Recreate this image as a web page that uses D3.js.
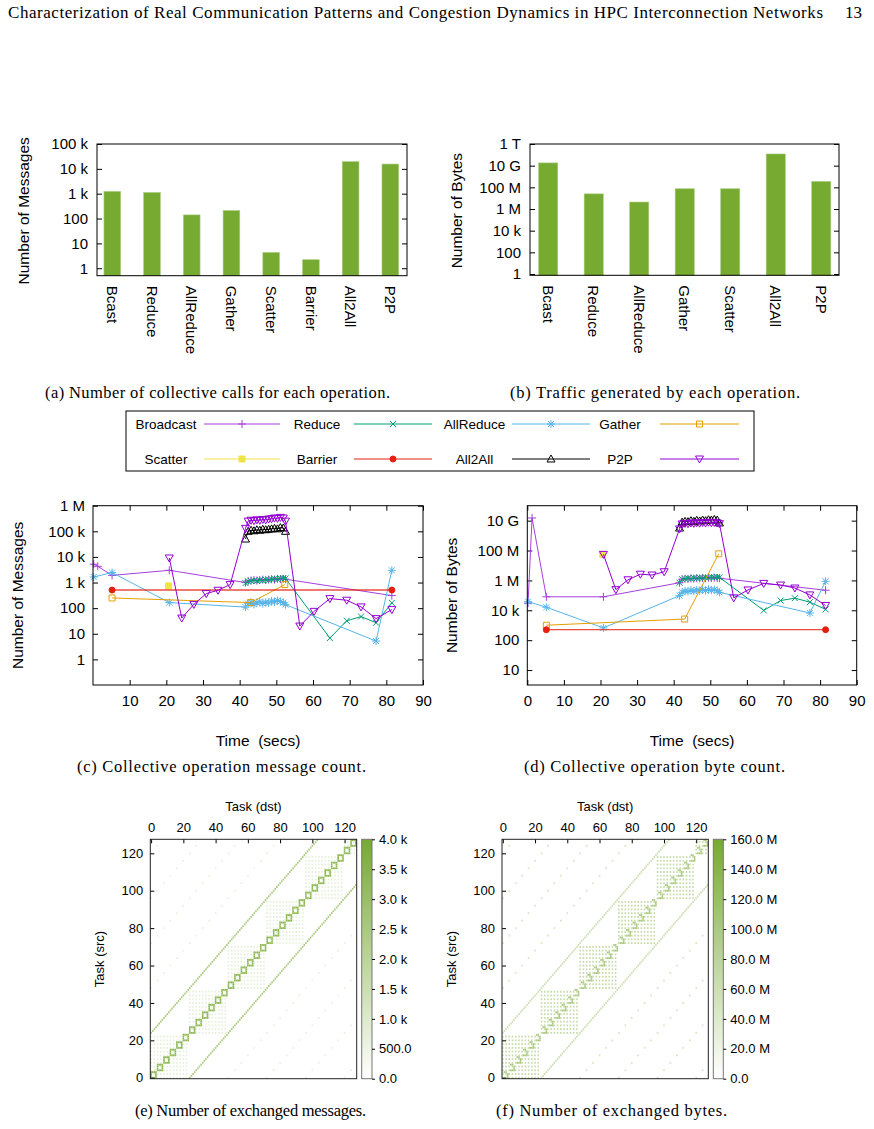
<!DOCTYPE html>
<html lang="en">
<head>
<meta charset="UTF-8">
<title>Collective operations and communication matrices</title>
<script src="https://d3js.org/d3.v7.min.js"></script>
<style>
  body { margin: 0; background: #fff; }
  svg text { font-family: "Liberation Sans", Arial, Helvetica, sans-serif; fill: #000; }
  svg text.serif { font-family: "Liberation Serif", "Times New Roman", serif; }
</style>
</head>
<body>
<svg width="874" height="1129"></svg>
<script>
// ---------- data ----------
const pageTitle = "Characterization of Real Communication Patterns and Congestion Dynamics in HPC Interconnection Networks";
const pageNumber = "13";

// (a) number of calls per operation
const callOps = ["Bcast", "Reduce", "AllReduce", "Gather", "Scatter", "Barrier", "All2All", "P2P"];
const callCounts = [1230, 1120, 140, 209, 4.3, 2.2, 19500, 15600];
const callTicks = [1, 10, 100, 1e3, 1e4, 1e5];
const callTickLabels = ["1", "10", "100", "1 k", "10 k", "100 k"];

// (b) bytes per operation
const byteOps = ["Bcast", "Reduce", "AllReduce", "Gather", "Scatter", "All2All", "P2P"];
const byteTotals = [1.8e10, 2.5e7, 4.4e6, 7.4e7, 7.4e7, 1.2e11, 3.5e8];
const byteTicks = [1, 1e2, 1e4, 1e6, 1e8, 1e10, 1e12];
const byteTickLabels = ["1", "100", "10 k", "1 M", "100 M", "10 G", "1 T"];

// (c)/(d) time series
const timeTicks = [0, 10, 20, 30, 40, 50, 60, 70, 80, 90];
const msgSeriesTicks = [1, 10, 100, 1e3, 1e4, 1e5, 1e6];
const msgSeriesLabels = ["1", "10", "100", "1 k", "10 k", "100 k", "1 M"];
const byteSeriesTicks = [1, 1e2, 1e4, 1e6, 1e8, 1e10];
const byteSeriesLabels = ["10", "100", "10 k", "1 M", "100 M", "10 G"];

const burstTime = [42.3, 43.1, 43.9, 44.7, 45.5, 46.3, 47.1, 47.9, 48.7, 49.5, 50.3, 51.1, 51.9];

const bcastTime = [0.2, 1.3, 5.2, 20.8, 41.6, ...burstTime, 52.5, 81.5];
const bcastMsgs = [5200, 4300, 1900, 3000, 1000, 1150, 1200, 1250, 1200, 1250, 1300, 1250, 1300, 1350, 1300, 1400, 1350, 1400, 1350, 310];
const bcastBytes = [30000, 1.5e10, 80000, 80000, 7e5, 1.2e6, 1.3e6, 1.25e6, 1.35e6, 1.3e6, 1.4e6, 1.35e6, 1.45e6, 1.4e6, 1.5e6, 1.45e6, 1.5e6, 1.45e6, 1.4e6, 2.2e5];

const reduceTime = [41.6, ...burstTime, 52.5, 64.6, 69.2, 73.1, 77.2, 81.5];
const reduceMsgs = [950, 1100, 1150, 1200, 1150, 1250, 1200, 1300, 1250, 1350, 1400, 1350, 1450, 1500, 1450, 6.8, 32, 47, 27, 160];
const reduceBytes = [7e5, 1.2e6, 1.3e6, 1.4e6, 1.3e6, 1.5e6, 1.4e6, 1.5e6, 1.45e6, 1.6e6, 1.5e6, 1.7e6, 1.6e6, 1.7e6, 1.6e6, 9800, 45000, 65000, 35000, 11500];

const allredTime = [0.2, 5.2, 20.8, 41.6, ...burstTime, 52.5, 77.2, 81.5];
const allredMsgs = [1650, 2450, 165, 110, 150, 170, 140, 160, 180, 150, 170, 160, 190, 175, 200, 180, 165, 137, 5.2, 3000];
const allredBytes = [38000, 16000, 660, 96000, 1.6e5, 2.0e5, 1.8e5, 2.2e5, 1.9e5, 2.3e5, 2.0e5, 2.4e5, 2.1e5, 2.5e5, 2.2e5, 2.4e5, 2.1e5, 1.6e5, 6600, 8.7e5];

const gatherTime = [5.2, 43.0, 52.3];
const gatherMsgs = [250, 165, 830];
const gatherBytes = [1000, 2600, 6e7];

const scatterTime = [20.6];
const scatterMsgs = [740];
const scatterBytes = [5.5e7];

const barrierTime = [5.2, 81.5];
const barrierMsgs = [510, 510];
const barrierBytes = [500, 500];

const a2aTime = [41.6, ...burstTime, 52.5];
const a2aMsgs = [50000, 1.0e5, 1.1e5, 1.05e5, 1.15e5, 1.1e5, 1.2e5, 1.15e5, 1.2e5, 1.25e5, 1.3e5, 1.25e5, 1.4e5, 1.35e5, 1.0e5];
const a2aBytes = [3.2e9, 8e9, 9e9, 8.5e9, 1.0e10, 9e9, 1.05e10, 9.5e9, 1.1e10, 1.0e10, 1.15e10, 1.1e10, 1.2e10, 1.1e10, 7e9];

const p2pTime = [20.8, 24.2, 27.5, 30.9, 34.1, 37.4, 41.6, ...burstTime, 52.5, 56.4, 60.3, 64.6, 69.2, 73.1, 77.2, 81.5];
const p2pMsgs = [9100, 41, 140, 370, 500, 830, 1.3e5, 2.5e5, 2.7e5, 2.6e5, 2.8e5, 2.7e5, 2.9e5, 2.8e5, 3.0e5, 3.1e5, 3.3e5, 3.2e5, 3.5e5, 3.3e5, 2.5e5, 20, 75, 236, 204, 112, 39, 88];
const p2pBytes = [5.5e7, 2.4e5, 1.1e6, 2.6e6, 2.3e6, 3.8e6, 2.8e9, 6e9, 6.5e9, 6.2e9, 7e9, 6.6e9, 7.2e9, 6.8e9, 7.5e9, 7e9, 7.8e9, 7.2e9, 7.6e9, 7.0e9, 6.3e9, 68000, 2.3e5, 6.3e5, 4.9e5, 3.1e5, 1.07e5, 21000];

// (e)/(f) task-to-task matrices, described by the structure seen in the picture
const taskCount = 128;
const blockStarts = [0, 24, 48, 72, 96, 120];
const blockSize = 24;
const ringSize = 4;
const bandOffsets = [24, -24];
const dottedOffsets = [48, 72, 96, 120, -48, -72, -96, -120];
const msgRingCells = [[0, 0], [0, 1], [0, 2], [0, 3], [1, 0], [1, 3], [2, 0], [2, 3], [3, 0], [3, 1], [3, 2], [3, 3]];
const byteRingCells = [[0, 1], [0, 2], [1, 3], [2, 3], [3, 1], [3, 2], [0, 3]];
const msgLevels = {ring: 3300, band: 2500, block: 700, diag: 650};
const byteLevels = {ring: 100e6, band: 60e6, block: 65e6, diag: 48e6};
const taskTicks = [0, 20, 40, 60, 80, 100, 120];
const msgCbTicks = [0, 500, 1000, 1500, 2000, 2500, 3000, 3500, 4000];
const msgCbLabels = ["0.0", "500.0", "1.0 k", "1.5 k", "2.0 k", "2.5 k", "3.0 k", "3.5 k", "4.0 k"];
const byteCbTicks = [0, 20e6, 40e6, 60e6, 80e6, 100e6, 120e6, 140e6, 160e6];
const byteCbLabels = ["0.0", "20.0 M", "40.0 M", "60.0 M", "80.0 M", "100.0 M", "120.0 M", "140.0 M", "160.0 M"];

const barGreen = "#77aa31";

const series = [
  {name: "Broadcast", color: "#a640dc", marker: "plus", t: bcastTime, msgs: bcastMsgs, bytes: bcastBytes},
  {name: "Reduce", color: "#009e73", marker: "times", t: reduceTime, msgs: reduceMsgs, bytes: reduceBytes},
  {name: "AllReduce", color: "#56b4e9", marker: "star", t: allredTime, msgs: allredMsgs, bytes: allredBytes},
  {name: "Gather", color: "#e69f00", marker: "square", t: gatherTime, msgs: gatherMsgs, bytes: gatherBytes},
  {name: "Scatter", color: "#f0e442", marker: "fsquare", t: scatterTime, msgs: scatterMsgs, bytes: scatterBytes},
  {name: "Barrier", color: "#e51e10", marker: "fcircle", t: barrierTime, msgs: barrierMsgs, bytes: barrierBytes},
  {name: "All2All", color: "#000000", marker: "tri", t: a2aTime, msgs: a2aMsgs, bytes: a2aBytes},
  {name: "P2P", color: "#9400d3", marker: "itri", t: p2pTime, msgs: p2pMsgs, bytes: p2pBytes}
];

// ---------- drawing ----------
const svg = d3.select("svg");
const FONT = 15;

function frame(x0, y0, x1, y1, stroke) {
  svg.append("rect").attr("x", x0).attr("y", y0)
    .attr("width", x1 - x0).attr("height", y1 - y0)
    .attr("fill", "none").attr("stroke", stroke || "#000").attr("stroke-width", 1);
}

function styleAxis(g, size) {
  g.attr("font-size", size).attr("font-family", null);
  g.select(".domain").remove();
  g.selectAll("line").attr("stroke", "#000");
}

function yTitle(text, x, y) {
  svg.append("text").attr("transform", `translate(${x},${y}) rotate(-90)`)
    .attr("text-anchor", "middle").attr("font-size", 15.5).text(text);
}

function caption(text, x, y, w) {
  svg.append("text").attr("class", "serif").attr("x", x).attr("y", y)
    .attr("font-size", 16.5).attr("textLength", w).attr("lengthAdjust", "spacing").text(text);
}

// header
svg.append("text").attr("class", "serif").attr("x", 8).attr("y", 18)
  .attr("font-size", 17).attr("textLength", 815).attr("lengthAdjust", "spacing").text(pageTitle);
svg.append("text").attr("class", "serif").attr("x", 845).attr("y", 18)
  .attr("font-size", 17).text(pageNumber);

// bar charts
function barChart(c) {
  const x = d3.scaleLinear().domain(c.xDomain).range([c.left, c.right]);
  const y = d3.scaleLog().domain(c.yDomain).range([c.bottom, c.top]);
  const bw = x(0.42) - x(0);
  svg.append("g").selectAll("rect").data(c.values).join("rect")
    .attr("x", (d, i) => x(i) - bw / 2)
    .attr("y", d => y(d))
    .attr("width", bw)
    .attr("height", d => c.bottom - y(d))
    .attr("fill", barGreen)
    .attr("stroke", "#a9cd80").attr("stroke-width", 0.6);

  const ax = svg.append("g").attr("transform", `translate(${c.left},0)`)
    .call(d3.axisLeft(y).tickValues(c.ticks).tickFormat((d, i) => c.labels[i])
      .tickSizeInner(-5).tickSizeOuter(0).tickPadding(9));
  styleAxis(ax, FONT);
  const axr = svg.append("g").attr("transform", `translate(${c.right},0)`)
    .call(d3.axisRight(y).tickValues(c.ticks).tickFormat("").tickSizeInner(-5).tickSizeOuter(0));
  styleAxis(axr, FONT);

  svg.append("g").selectAll("text").data(c.cats).join("text")
    .attr("transform", (d, i) => `translate(${x(i)},${c.bottom + 10}) rotate(90)`)
    .attr("dy", "0.35em").attr("font-size", FONT).text(d => d);

  frame(c.left, c.top, c.right, c.bottom);
  yTitle(c.title, c.titleX, (c.top + c.bottom) / 2 + 1);
}

barChart({cats: callOps, values: callCounts, xDomain: [-0.385, 7.42], yDomain: [0.5, 1e5],
  left: 97, right: 407, top: 144, bottom: 275.7, ticks: callTicks, labels: callTickLabels,
  title: "Number of Messages", titleX: 29});
barChart({cats: byteOps, values: byteTotals, xDomain: [-0.4, 6.39], yDomain: [0.76, 1e12],
  left: 530, right: 839, top: 144, bottom: 275.3, ticks: byteTicks, labels: byteTickLabels,
  title: "Number of Bytes", titleX: 462});

caption("(a) Number of collective calls for each operation.", 45, 398, 345);
caption("(b) Traffic generated by each operation.", 510, 398, 290);

// markers
function markerPath(type, s) {
  const t = s * 0.75;
  switch (type) {
    case "plus": return `M${-s},0H${s}M0,${-s}V${s}`;
    case "times": return `M${-t},${-t}L${t},${t}M${-t},${t}L${t},${-t}`;
    case "star": return `M${-s},0H${s}M0,${-s}V${s}M${-t},${-t}L${t},${t}M${-t},${t}L${t},${-t}`;
    case "square":
    case "fsquare": return `M${-t},${-t}H${t}V${t}H${-t}Z`;
    case "fcircle": return `M${t},0A${t},${t} 0 1,1 ${-t},0A${t},${t} 0 1,1 ${t},0Z`;
    case "tri": return `M0,${-s}L${s},${t}L${-s},${t}Z`;
    case "itri": return `M0,${s}L${s},${-t}L${-s},${-t}Z`;
  }
}
function drawMarker(g, type, color, x, y) {
  const filled = type === "fsquare" || type === "fcircle";
  g.append("path").attr("transform", `translate(${x},${y})`)
    .attr("d", markerPath(type, 4))
    .attr("fill", filled ? color : "none")
    .attr("stroke", color).attr("stroke-width", 1);
}

// legend
const legCols = [{c: 166, x1: 204, x2: 280}, {c: 317, x1: 354, x2: 432},
                 {c: 474.5, x1: 512, x2: 590}, {c: 620, x1: 660, x2: 739}];
const legRows = [424, 459];
frame(126, 411, 754, 471);
series.forEach((s, i) => {
  const col = legCols[i % 4], yy = legRows[Math.floor(i / 4)];
  const g = svg.append("g");
  g.append("text").attr("x", col.c).attr("y", yy).attr("dy", "0.35em")
    .attr("text-anchor", "middle").attr("font-size", 13.5).text(s.name);
  g.append("line").attr("x1", col.x1).attr("x2", col.x2).attr("y1", yy).attr("y2", yy)
    .attr("stroke", s.color).attr("stroke-width", 1);
  drawMarker(g, s.marker, s.color, (col.x1 + col.x2) / 2, yy);
});

// time series
function lineChart(c) {
  const x = d3.scaleLinear().domain([0, 90]).range([c.left, c.right]);
  const y = d3.scaleLog().domain(c.yDomain).range([c.bottom, c.top]);

  const ay = svg.append("g").attr("transform", `translate(${c.left},0)`)
    .call(d3.axisLeft(y).tickValues(c.ticks).tickFormat((d, i) => c.labels[i])
      .tickSizeInner(-5).tickSizeOuter(0).tickPadding(8));
  styleAxis(ay, FONT);
  const ayr = svg.append("g").attr("transform", `translate(${c.right},0)`)
    .call(d3.axisRight(y).tickValues(c.ticks).tickFormat("").tickSizeInner(-5).tickSizeOuter(0));
  styleAxis(ayr, FONT);
  const ax = svg.append("g").attr("transform", `translate(0,${c.bottom})`)
    .call(d3.axisBottom(x).tickValues(c.xTicks).tickFormat(d => d)
      .tickSizeInner(-5).tickSizeOuter(0).tickPadding(10));
  styleAxis(ax, FONT);
  const axt = svg.append("g").attr("transform", `translate(0,${c.top})`)
    .call(d3.axisTop(x).tickValues(c.xTicks).tickFormat("").tickSizeInner(-5).tickSizeOuter(0));
  styleAxis(axt, FONT);

  const line = d3.line().x(d => x(d[0])).y(d => y(d[1]));
  series.forEach(s => {
    const pts = s.t.map((t, i) => [t, s[c.key][i]]);
    const g = svg.append("g");
    const wide = s.name === "Barrier" && c.key === "msgs";
    if (pts.length > 1) {
      g.append("path").datum(pts).attr("d", line).attr("fill", "none")
        .attr("stroke", s.color).attr("stroke-width", wide ? 2 : 1)
        .attr("stroke-opacity", wide ? 0.6 : 1);
    }
    pts.forEach(p => drawMarker(g, s.marker, s.color, x(p[0]), y(p[1])));
  });

  frame(c.left, c.top, c.right, c.bottom);
  yTitle(c.title, c.titleX, (c.top + c.bottom) / 2);
  svg.append("text").attr("x", c.timeX).attr("y", 746).attr("text-anchor", "middle")
    .attr("font-size", 15.5).style("white-space", "pre").text("Time  (secs)");
}

lineChart({key: "msgs", left: 93, right: 423, top: 505.7, bottom: 685, yDomain: [0.1, 1e6],
  ticks: msgSeriesTicks, labels: msgSeriesLabels, xTicks: timeTicks.slice(1),
  title: "Number of Messages", titleX: 23, timeX: 258});
lineChart({key: "bytes", left: 527.3, right: 856.7, top: 505.7, bottom: 685, yDomain: [0.1, 1e11],
  ticks: byteSeriesTicks, labels: byteSeriesLabels, xTicks: timeTicks,
  title: "Number of Bytes", titleX: 457, timeX: 692});

caption("(c) Collective operation message count.", 77, 772, 289);
caption("(d) Collective operation byte count.", 524, 772, 261);

// matrices
function buildCells(levels, ringCells) {
  const cells = new Map();
  const put = (s, d, v) => {
    if (s < 0 || d < 0 || s >= taskCount || d >= taskCount) return;
    const k = s * taskCount + d;
    if (!cells.has(k) || cells.get(k).v < v) cells.set(k, {src: s, dst: d, v});
  };
  dottedOffsets.forEach(off => { for (let d = 0; d < taskCount; d += 4) put(d + off, d, levels.diag); });
  blockStarts.forEach(b => {
    for (let i = b; i < b + blockSize; i += 2)
      for (let j = b; j < b + blockSize; j += 2) put(i, j, levels.block);
  });
  bandOffsets.forEach(off => { for (let d = 0; d < taskCount; d++) put(d + off, d, levels.band); });
  for (let g = 0; g < taskCount; g += ringSize)
    ringCells.forEach(([a, b]) => put(g + a, g + b, levels.ring));
  return Array.from(cells.values());
}

function heatmap(c) {
  const x = d3.scaleLinear().domain([-0.5, 127.5]).range([c.left, c.right]);
  const y = d3.scaleLinear().domain([-0.5, 127.5]).range([c.bottom, c.top]);
  const color = d3.scaleLinear().domain([0, c.max]).range(["#ffffff", barGreen]);
  const cw = x(1) - x(0), ch = y(0) - y(1);

  svg.append("g").selectAll("rect").data(c.cells).join("rect")
    .attr("x", d => x(d.dst - 0.5)).attr("y", d => y(d.src + 0.5))
    .attr("width", cw).attr("height", ch).attr("fill", d => color(d.v));

  const ay = svg.append("g").attr("transform", `translate(${c.left},0)`)
    .call(d3.axisLeft(y).tickValues(taskTicks).tickSizeInner(-4).tickSizeOuter(0).tickPadding(7));
  styleAxis(ay, 13);
  const ax = svg.append("g").attr("transform", `translate(0,${c.top})`)
    .call(d3.axisTop(x).tickValues(taskTicks).tickSizeInner(-4).tickSizeOuter(0).tickPadding(7));
  styleAxis(ax, 13);
  frame(c.left, c.top, c.right, c.bottom, "#222");

  // colour box
  const gid = "grad" + c.key;
  const grad = svg.append("defs").append("linearGradient").attr("id", gid)
    .attr("x1", 0).attr("y1", 1).attr("x2", 0).attr("y2", 0);
  grad.append("stop").attr("offset", 0).attr("stop-color", "#ffffff");
  grad.append("stop").attr("offset", 1).attr("stop-color", barGreen);
  const cb = d3.scaleLinear().domain([0, c.max]).range([c.bottom, c.top]);
  svg.append("rect").attr("x", c.cbLeft).attr("y", c.top).attr("width", c.cbRight - c.cbLeft)
    .attr("height", c.bottom - c.top).attr("fill", `url(#${gid})`)
    .attr("stroke", "#777").attr("stroke-width", 1);
  const acb = svg.append("g").attr("transform", `translate(${c.cbRight},0)`)
    .call(d3.axisRight(cb).tickValues(c.cbTicks).tickFormat((d, i) => c.cbLabels[i])
      .tickSizeInner(3).tickSizeOuter(0).tickPadding(4));
  styleAxis(acb, 13);

  svg.append("text").attr("x", (c.left + c.right) / 2).attr("y", 811)
    .attr("text-anchor", "middle").attr("font-size", 13).text("Task (dst)");
  svg.append("text").attr("transform", `translate(${c.titleX},${(c.top + c.bottom) / 2}) rotate(-90)`)
    .attr("text-anchor", "middle").attr("font-size", 13).text("Task (src)");
}

heatmap({key: "msgs", cells: buildCells(msgLevels, msgRingCells), max: 4000,
  left: 150.3, right: 356.7, top: 839.3, bottom: 1078.7, cbLeft: 361.7, cbRight: 372,
  cbTicks: msgCbTicks, cbLabels: msgCbLabels, titleX: 104});
heatmap({key: "bytes", cells: buildCells(byteLevels, byteRingCells), max: 160e6,
  left: 502, right: 708.3, top: 839.3, bottom: 1078.7, cbLeft: 713.3, cbRight: 723.3,
  cbTicks: byteCbTicks, cbLabels: byteCbLabels, titleX: 456});

caption("(e) Number of exchanged messages.", 135, 1116, 231);
caption("(f) Number of exchanged bytes.", 496, 1116, 231);
</script>
</body>
</html>
